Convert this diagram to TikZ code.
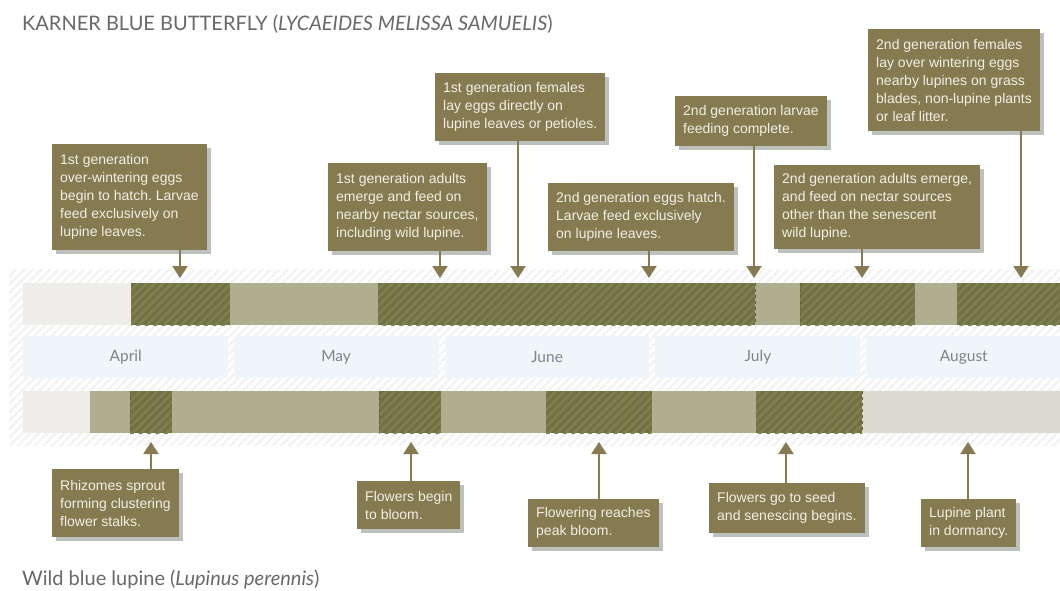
\documentclass[tikz,border=0pt]{standalone}
\usepackage{fontspec}
\usepackage{xcolor}
\usetikzlibrary{positioning,arrows.meta,patterns.meta,shadows}
\newfontfamily\boxfont{Liberation Sans}
\newfontfamily\headfont{Lato}
\frenchspacing
\definecolor{boxc}{RGB}{133,122,80}
\definecolor{boxtext}{RGB}{242,240,230}
\definecolor{shadowc}{RGB}{188,193,190}
\definecolor{olivec}{RGB}{112,114,66}
\definecolor{olivestripe}{RGB}{126,128,82}
\definecolor{khakic}{RGB}{175,174,143}
\definecolor{lightc}{RGB}{238,237,233}
\definecolor{dormc}{RGB}{221,219,207}
\definecolor{monthc}{RGB}{238,246,252}
\definecolor{monthtext}{RGB}{130,130,130}
\definecolor{titlec}{RGB}{105,105,105}
\definecolor{bandstripe}{RGB}{243,243,243}
\definecolor{seamc}{RGB}{95,97,55}

\begin{document}
\begin{tikzpicture}[x=1pt, y=-1pt,
    box/.style={fill=boxc, text=boxtext, anchor=north west, align=left,
        inner xsep=8pt, inner ysep=0pt, font=\boxfont\fontsize{14}{18}\selectfont,
        drop shadow={shadow xshift=4pt, shadow yshift=-4pt, fill=shadowc, opacity=1}},
    pointer/.style={draw=boxc, line width=2pt, -{Triangle[width=15pt,length=12pt]}},
    hatch/.style={fill=olivec, postaction={pattern={Lines[angle=45,distance=6pt,line width=2.5pt]}, pattern color=olivestripe}},
    seam/.style={draw=seamc, dashed, line width=1pt},
    month/.style={fill=monthc, minimum width=205pt, minimum height=42pt, inner sep=0pt,
        text=monthtext, font=\headfont\fontsize{15.5}{18}\selectfont},
    heading/.style={anchor=base west, inner sep=0pt, text=titlec, font=\headfont\fontsize{20}{24}\selectfont}]
    \useasboundingbox (0,0) rectangle (1060,591);
    \fill[white] (0,0) rectangle (1060,591);

    % Titles
    \node[heading] (title) at (22,31) {KARNER BLUE BUTTERFLY (\textit{LYCAEIDES MELISSA SAMUELIS})};
    \node[heading] (subtitle) at (22,585) {Wild blue lupine (\textit{Lupinus perennis})};

    % Striped band behind the bars
    \fill[white, postaction={pattern={Lines[angle=45,distance=6pt,line width=2.5pt]}, pattern color=bandstripe}] (9,269) rectangle (1060,445);

    % Butterfly
    \fill[lightc] (23,283) rectangle (131,325);
    \fill[hatch] (131,283) rectangle (230,325);
    \fill[khakic] (230,283) rectangle (378,325);
    \fill[hatch] (378,283) rectangle (755,325);
    \fill[khakic] (755,283) rectangle (800,325);
    \fill[hatch] (800,283) rectangle (915,325);
    \fill[khakic] (915,283) rectangle (957,325);
    \fill[hatch] (957,283) rectangle (1060,325);
    \draw[seam] (755,283) -- (755,325);
    \draw[seam] (800,283) -- (800,325);

    % Months
    \node[month, anchor=west] (apr) at (23,357) {April};
    \node[month, right=5pt of apr] (may) {May};
    \node[month, right=6pt of may, minimum width=204pt] (jun) {June};
    \node[month, right=6pt of jun] (jul) {July};
    \node[month, right=5pt of jul, minimum width=196pt] (aug) {August};

    % Lupine
    \fill[lightc] (23,391) rectangle (90,433);
    \fill[khakic] (90,391) rectangle (130,433);
    \fill[hatch] (130,391) rectangle (172,433);
    \fill[khakic] (172,391) rectangle (379,433);
    \fill[hatch] (379,391) rectangle (441,433);
    \fill[khakic] (441,391) rectangle (546,433);
    \fill[hatch] (546,391) rectangle (652,433);
    \fill[khakic] (652,391) rectangle (756,433);
    \fill[hatch] (756,391) rectangle (862,433);
    \fill[dormc] (862,391) rectangle (1060,433);
    \draw[seam] (130,391) -- (130,433);
    \draw[seam] (379,391) -- (379,433);
    \draw[seam] (862,391) -- (862,433);

    % Butterfly notes
    \node[box, minimum height=106pt] (t1) at (52,144)
        {1st generation\\over-wintering eggs\\begin to hatch. Larvae\\feed exclusively on\\lupine leaves.};
    \node[box, minimum height=88pt] (t2) at (328,163)
        {1st generation adults\\emerge and feed on\\nearby nectar sources,\\including wild lupine.};
    \node[box, minimum height=68pt] (t3) at (435,73)
        {1st generation females\\lay eggs directly on\\lupine leaves or petioles.};
    \node[box, minimum height=68pt] (t4) at (548,183)
        {2nd generation eggs hatch.\\Larvae feed exclusively\\on lupine leaves.};
    \node[box, minimum height=50pt] (t5) at (675,96)
        {2nd generation larvae\\feeding complete.};
    \node[box, minimum height=84pt] (t6) at (774,165)
        {2nd generation adults emerge,\\and feed on nectar sources\\other than the senescent\\wild lupine.};
    \node[box, minimum height=102pt] (t7) at (868,29)
        {2nd generation females\\lay over wintering eggs\\nearby lupines on grass\\blades, non-lupine plants\\or leaf litter.};

    \coordinate (ta1) at (180,278);
    \coordinate (ta2) at (440,278);
    \coordinate (ta3) at (518,278);
    \coordinate (ta4) at (649,278);
    \coordinate (ta5) at (754,278);
    \coordinate (ta6) at (862,278);
    \coordinate (ta7) at (1021,278);
    \draw[pointer] (t1.south -| ta1) -- (ta1);
    \draw[pointer] (t2.south -| ta2) -- (ta2);
    \draw[pointer] (t3.south -| ta3) -- (ta3);
    \draw[pointer] (t4.south -| ta4) -- (ta4);
    \draw[pointer] (t5.south -| ta5) -- (ta5);
    \draw[pointer] (t6.south -| ta6) -- (ta6);
    \draw[pointer] (t7.south -| ta7) -- (ta7);

    % Lupine notes
    \node[box, minimum height=68pt] (b1) at (52,469)
        {Rhizomes sprout\\forming clustering\\flower stalks.};
    \node[box, minimum height=48pt] (b2) at (357,481)
        {Flowers begin\\to bloom.};
    \node[box, minimum height=48pt] (b3) at (528,499)
        {Flowering reaches\\peak bloom.};
    \node[box, minimum height=50pt] (b4) at (709,483)
        {Flowers go to seed\\and senescing begins.};
    \node[box, minimum height=48pt] (b5) at (921,499)
        {Lupine plant\\in dormancy.};

    \coordinate (ba1) at (151,442);
    \coordinate (ba2) at (411,442);
    \coordinate (ba3) at (599,442);
    \coordinate (ba4) at (786,442);
    \coordinate (ba5) at (968,442);
    \draw[pointer] (b1.north -| ba1) -- (ba1);
    \draw[pointer] (b2.north -| ba2) -- (ba2);
    \draw[pointer] (b3.north -| ba3) -- (ba3);
    \draw[pointer] (b4.north -| ba4) -- (ba4);
    \draw[pointer] (b5.north -| ba5) -- (ba5);
\end{tikzpicture}
\end{document}
